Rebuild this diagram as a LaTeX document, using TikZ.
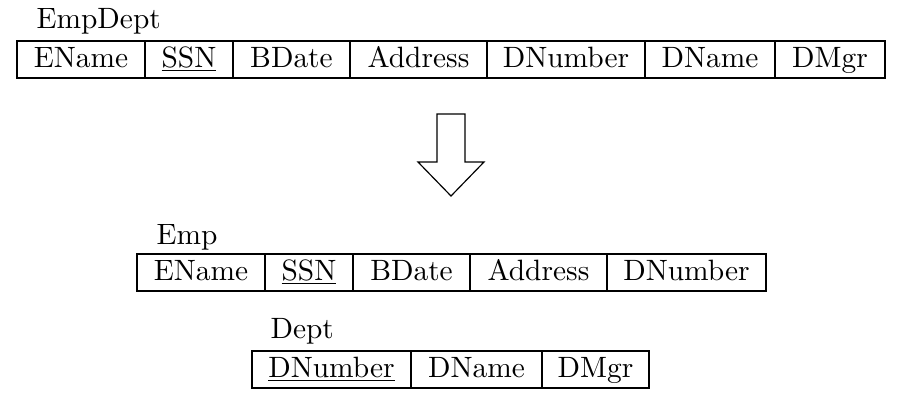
\documentclass[tikz,border=0pt]{standalone}
\usepackage{tikz}
\usetikzlibrary{positioning}
\newcommand{\px}{0.34pt}
\newcommand{\keyattr}[1]{\setbox0\hbox{#1}\rlap{\rule[-1.4pt]{\wd0}{0.34pt}}\box0}
\tikzset{
  cell/.style={draw, rectangle, inner sep=0pt, outer sep=0pt, minimum height=37*\px, text height=6.83pt, text depth=1.5pt},
  tablename/.style={anchor=base west, inner sep=0pt}
}
\begin{document}
\begin{tikzpicture}[x=\px, y=-\px]
\useasboundingbox (0,0) rectangle (905,401);
% relation EmpDept
\node[cell, anchor=north west, minimum width=128*\px] (ed1) at (17,41) {EName};
\node[cell, minimum width=88*\px, right=0pt of ed1] (ed2) {\keyattr{SSN}};
\node[cell, minimum width=117*\px, right=0pt of ed2] (ed3) {BDate};
\node[cell, minimum width=137*\px, right=0pt of ed3] (ed4) {Address};
\node[cell, minimum width=158*\px, right=0pt of ed4] (ed5) {DNumber};
\node[cell, minimum width=130*\px, right=0pt of ed5] (ed6) {DName};
\node[cell, minimum width=110*\px, right=0pt of ed6] (ed7) {DMgr};
\node[tablename] (edname) at ([xshift=19*\px, yshift=13*\px]ed1.north west) {EmpDept};
% decomposition arrow
\draw (437,114) -- (465,114) -- (465,162) -- (484,162) -- (451,196) -- (418,162) -- (437,162) -- cycle;
% relation Emp
\node[cell, anchor=north west, minimum width=128*\px] (em1) at (137,254) {EName};
\node[cell, minimum width=88*\px, right=0pt of em1] (em2) {\keyattr{SSN}};
\node[cell, minimum width=117*\px, right=0pt of em2] (em3) {BDate};
\node[cell, minimum width=137*\px, right=0pt of em3] (em4) {Address};
\node[cell, minimum width=159*\px, right=0pt of em4] (em5) {DNumber};
\node[tablename] (emname) at ([xshift=19*\px, yshift=10*\px]em1.north west) {Emp};
% relation Dept
\node[cell, anchor=north west, minimum width=159*\px] (de1) at (252,351) {\keyattr{DNumber}};
\node[cell, minimum width=131*\px, right=0pt of de1] (de2) {DName};
\node[cell, minimum width=107*\px, right=0pt of de2] (de3) {DMgr};
\node[tablename] (dename) at ([xshift=18*\px, yshift=13*\px]de1.north west) {Dept};
\end{tikzpicture}
\end{document}
